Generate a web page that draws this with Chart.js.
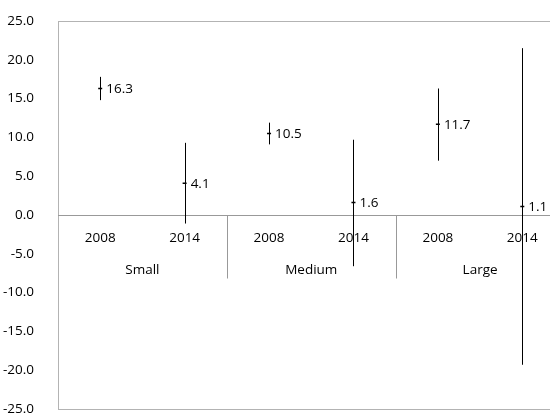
<!DOCTYPE html>
<html>
<head>
<meta charset="utf-8">
<script src="https://cdn.jsdelivr.net/npm/chart.js@4/dist/chart.umd.min.js"></script>
<style>
  html, body { margin: 0; padding: 0; background: #fff; overflow: hidden; width: 550px; height: 415px; }
  #wrap { position: relative; width: 568px; height: 415px; }
</style>
</head>
<body>
<div id="wrap"><canvas id="c"></canvas></div>
<script>
// Firm size groups and survey years
const groups = ['Small', 'Medium', 'Large'];
const years = ['2008', '2014'];
// Point estimates with their interval bounds, one per group/year
const values = [16.3, 4.1, 10.5, 1.6, 11.7, 1.1];
const lower  = [14.8, -1.1, 9.1, -6.6, 7.0, -19.3];
const upper  = [17.8, 9.3, 11.9, 9.7, 16.3, 21.5];
const yTicks = [-25, -20, -15, -10, -5, 0, 5, 10, 15, 20, 25];

const categories = [];
groups.forEach(g => years.forEach(y => categories.push(g + ' ' + y)));

const FONT = '"Open Sans", "DejaVu Sans", sans-serif';
const FSIZE = 13.5;
const TEXT = '#000';

const decorations = {
  id: 'decorations',
  beforeDatasetsDraw(chart) {
    const { ctx, chartArea: a, scales: { x, y } } = chart;
    const y0 = Math.round(y.getPixelForValue(0)) + 0.5;
    ctx.save();
    // plot frame
    ctx.strokeStyle = '#b3b3b3';
    ctx.lineWidth = 1;
    ctx.strokeRect(Math.round(a.left) + 0.5, Math.round(a.top) + 0.5,
                   Math.round(a.right - a.left), Math.round(a.bottom - a.top));
    // zero line
    ctx.strokeStyle = '#999';
    ctx.beginPath();
    ctx.moveTo(a.left, y0);
    ctx.lineTo(a.right, y0);
    ctx.stroke();
    // group separators below the zero line
    const per = years.length;
    for (let g = 1; g < groups.length; g++) {
      const xs = Math.round((x.getPixelForValue(g * per - 1) + x.getPixelForValue(g * per)) / 2) + 0.5;
      ctx.beginPath();
      ctx.moveTo(xs, y0);
      ctx.lineTo(xs, y0 + 63);
      ctx.stroke();
    }
    // year and group labels
    ctx.fillStyle = TEXT;
    ctx.font = FSIZE + 'px ' + FONT;
    ctx.textAlign = 'center';
    ctx.textBaseline = 'middle';
    categories.forEach((c, i) => {
      ctx.fillText(years[i % per], x.getPixelForValue(i), y0 + 23);
    });
    groups.forEach((g, gi) => {
      const cx = (x.getPixelForValue(gi * per) + x.getPixelForValue(gi * per + per - 1)) / 2;
      ctx.fillText(g, cx, y0 + 55);
    });
    // interval bars
    ctx.strokeStyle = '#000';
    values.forEach((v, i) => {
      const px = Math.round(x.getPixelForValue(i)) + 0.5;
      ctx.beginPath();
      ctx.moveTo(px, y.getPixelForValue(upper[i]));
      ctx.lineTo(px, y.getPixelForValue(lower[i]));
      ctx.stroke();
    });
    ctx.restore();
  },
  afterDatasetsDraw(chart) {
    const { ctx, scales: { x, y } } = chart;
    ctx.save();
    ctx.fillStyle = TEXT;
    ctx.font = FSIZE + 'px ' + FONT;
    ctx.textAlign = 'left';
    ctx.textBaseline = 'middle';
    values.forEach((v, i) => {
      ctx.fillText(v.toFixed(1), x.getPixelForValue(i) + 6, y.getPixelForValue(v) + 1);
    });
    ctx.restore();
  }
};

new Chart(document.getElementById('c'), {
  type: 'line',
  data: {
    labels: categories,
    datasets: [{
      data: values,
      showLine: false,
      pointStyle: 'line',
      pointRadius: 2,
      pointHoverRadius: 2,
      borderColor: '#000',
      borderWidth: 1.5,
      backgroundColor: '#000'
    }]
  },
  options: {
    responsive: true,
    maintainAspectRatio: false,
    animation: false,
    events: [],
    layout: { padding: { top: 21, bottom: 6, left: 0, right: 0 } },
    plugins: { legend: { display: false }, tooltip: { enabled: false } },
    scales: {
      x: {
        type: 'category',
        offset: true,
        display: false
      },
      y: {
        min: -25,
        max: 25,
        afterBuildTicks: s => { s.ticks = yTicks.map(v => ({ value: v })); },
        afterFit: s => { s.width = 58; s.paddingTop = 0; s.paddingBottom = 0; },
        grid: { display: false },
        border: { display: false },
        ticks: {
          padding: 16,
          color: TEXT,
          font: { family: FONT, size: FSIZE },
          callback: v => Number(v).toFixed(1)
        }
      }
    }
  },
  plugins: [decorations]
});
</script>
</body>
</html>
